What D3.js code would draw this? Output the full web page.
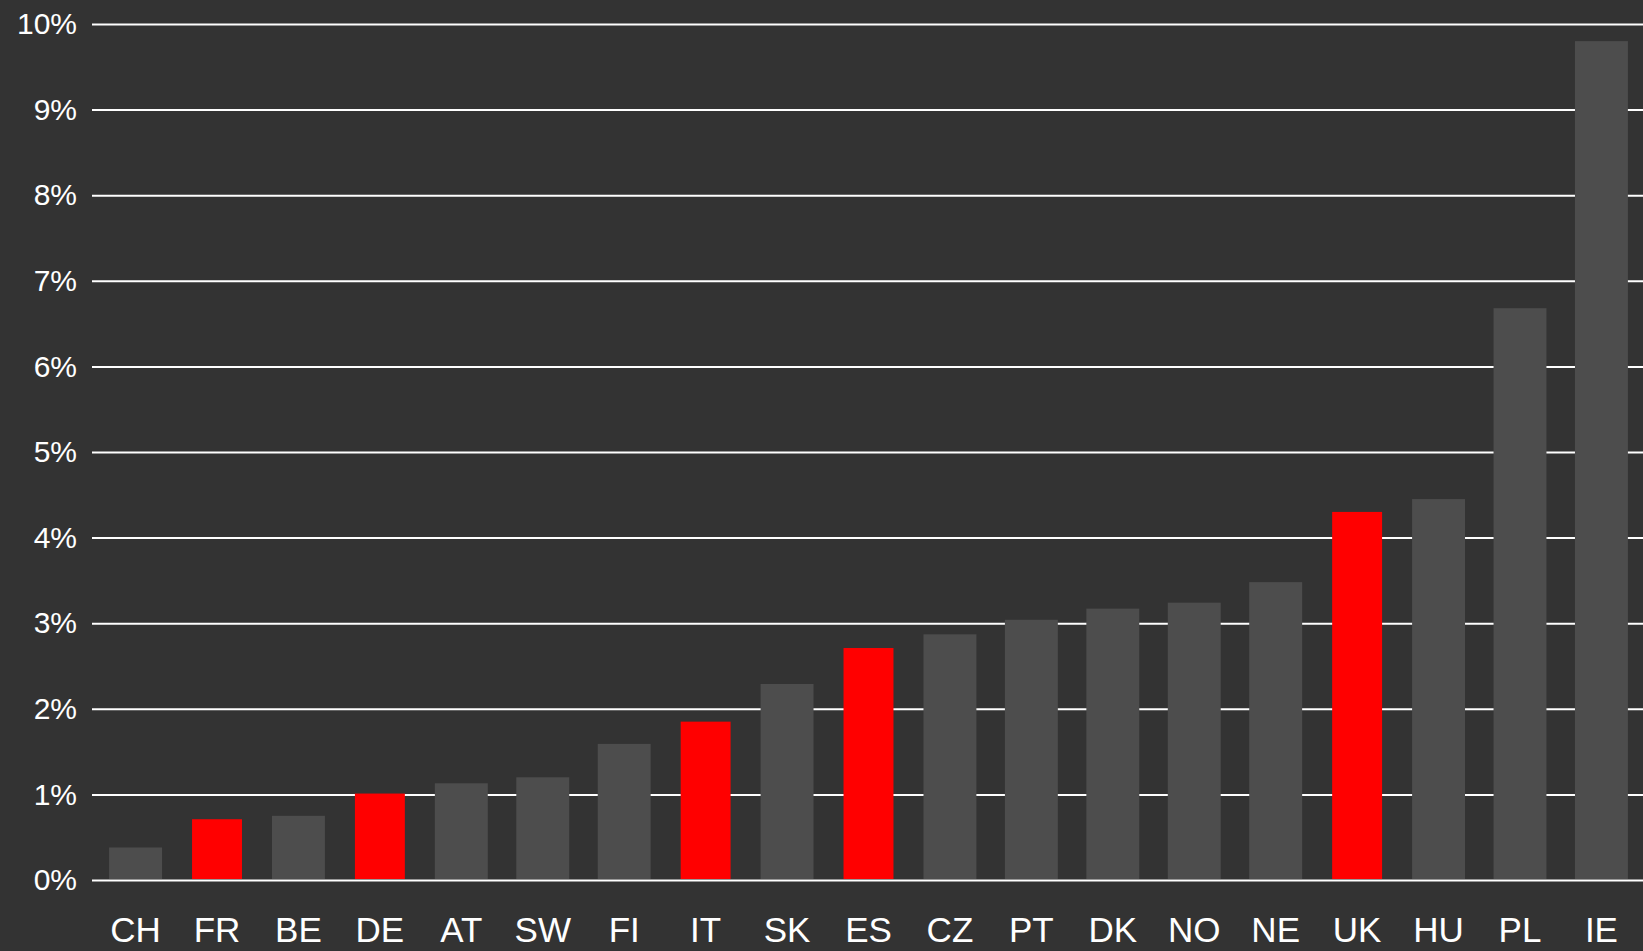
<!DOCTYPE html>
<html>
<head>
<meta charset="utf-8">
<script src="https://cdn.jsdelivr.net/npm/d3@7/dist/d3.min.js"></script>
<style>
	html, body { margin: 0; padding: 0; background: #333333; overflow: hidden; }
	svg { display: block; }
	text { font-family: "Liberation Sans", Arial, sans-serif; fill: #ffffff; }
</style>
</head>
<body>
<svg id="chart"></svg>
<script>
// ________ Data ________
const countries = ['CH', 'FR', 'BE', 'DE', 'AT', 'SW', 'FI', 'IT', 'SK', 'ES',
	'CZ', 'PT', 'DK', 'NO', 'NE', 'UK', 'HU', 'PL', 'IE'];
const values = [0.38, 0.71, 0.75, 1.01, 1.13, 1.20, 1.59, 1.85, 2.29, 2.71,
	2.87, 3.04, 3.17, 3.24, 3.48, 4.30, 4.45, 6.68, 9.80];
const highlighted = ['FR', 'DE', 'IT', 'ES', 'UK'];
const yTicks = [0, 1, 2, 3, 4, 5, 6, 7, 8, 9, 10];

// ________ Layout ________
const width = 1643, height = 951;
const margin = {top: 24, left: 92, bottom: 71};

const svg = d3.select('#chart')
	.attr('width', width)
	.attr('height', height);

svg.append('rect')
	.attr('width', width)
	.attr('height', height)
	.attr('fill', '#333333');

const x = d3.scaleBand()
	.domain(countries)
	.range([margin.left, width + 2])
	.paddingInner(0.35)
	.paddingOuter(0.21);

const y = d3.scaleLinear()
	.domain([0, 10])
	.range([height - margin.bottom, margin.top]);

// gridlines + y labels
const yAxis = svg.append('g')
	.attr('transform', `translate(${margin.left},0)`)
	.call(d3.axisLeft(y)
		.tickValues(yTicks)
		.tickSize(-(width - margin.left))
		.tickPadding(15)
		.tickFormat(d => d + '%'));
yAxis.select('.domain').remove();
yAxis.selectAll('.tick line')
	.attr('stroke', '#ffffff')
	.attr('stroke-width', 2);
yAxis.selectAll('.tick text')
	.attr('fill', '#ffffff')
	.style('font-size', '30px')
	.style('font-family', '"Liberation Sans", Arial, sans-serif');

// bars
const data = countries.map((c, i) => ({country: c, value: values[i], red: highlighted.includes(c)}));
const inset = d => d.red ? 1.5 : 0;

svg.append('g')
	.selectAll('rect')
	.data(data)
	.enter()
	.append('rect')
	.attr('x', d => x(d.country) + inset(d))
	.attr('width', d => x.bandwidth() - 2 * inset(d))
	.attr('y', d => y(d.value))
	.attr('height', d => y(0) - 1 - y(d.value))
	.attr('fill', d => d.red ? '#ff0000' : '#4d4d4d');

// x labels
const xAxis = svg.append('g')
	.attr('transform', `translate(0,${y(0)})`)
	.call(d3.axisBottom(x).tickSize(0));
xAxis.select('.domain').remove();
xAxis.selectAll('.tick text')
	.attr('fill', '#ffffff')
	.attr('dy', null)
	.attr('y', 62)
	.style('font-size', '35px')
	.style('font-family', '"Liberation Sans", Arial, sans-serif');
</script>
</body>
</html>
